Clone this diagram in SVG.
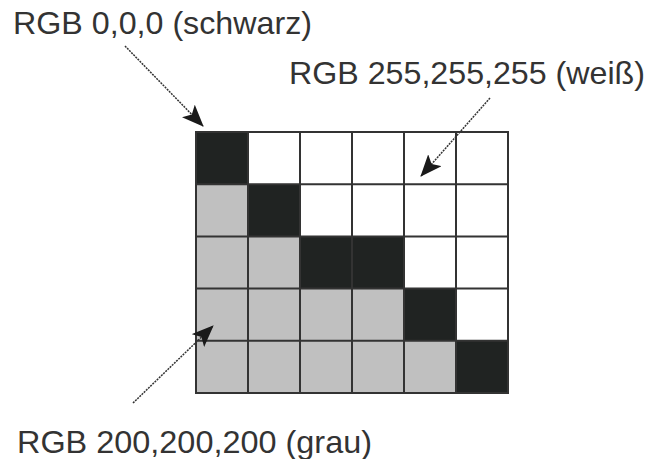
<svg xmlns="http://www.w3.org/2000/svg" width="651" height="459" viewBox="0 0 651 459">
<defs>
<style>
.lbl{font-family:"Liberation Sans",Arial,sans-serif;font-size:32px;fill:#333;}
.k{fill:#202322;}
.w{fill:#ffffff;}
.g{fill:#c0c0c0;}
.grid{stroke:#333;stroke-width:2;fill:none;}
.arr{stroke:#333;stroke-width:1.5;stroke-dasharray:2 1;fill:none;marker-end:url(#ah);}
</style>
<marker id="ah" markerUnits="userSpaceOnUse" markerWidth="24" markerHeight="18" refX="21" refY="9" orient="auto" viewBox="0 0 24 18">
<path d="M0,0 L22,9 L0,18 L5,9 Z" fill="#1a1a1a"/>
</marker>
</defs>
<rect width="651" height="459" fill="#ffffff"/>
<g id="grid">
<rect class="k" x="196" y="132" width="52" height="52.2"/>
<rect class="w" x="248" y="132" width="260" height="52.2"/>
<rect class="g" x="196" y="184.2" width="52" height="52.2"/>
<rect class="k" x="248" y="184.2" width="52" height="52.2"/>
<rect class="w" x="300" y="184.2" width="208" height="52.2"/>
<rect class="g" x="196" y="236.4" width="104" height="52.2"/>
<rect class="k" x="300" y="236.4" width="104" height="52.2"/>
<rect class="w" x="404" y="236.4" width="104" height="52.2"/>
<rect class="g" x="196" y="288.6" width="208" height="52.2"/>
<rect class="k" x="404" y="288.6" width="52" height="52.2"/>
<rect class="w" x="456" y="288.6" width="52" height="52.2"/>
<rect class="g" x="196" y="340.8" width="260" height="52.2"/>
<rect class="k" x="456" y="340.8" width="52" height="52.2"/>
<path class="grid" d="M196,132H508V393H196Z M248,132V393 M300,132V393 M352,132V393 M404,132V393 M456,132V393 M196,184.2H508 M196,236.4H508 M196,288.6H508 M196,340.8H508"/>
</g>
<g id="connectors">
<line class="arr" x1="125" y1="46" x2="203" y2="126"/>
<line class="arr" x1="490" y1="98" x2="421" y2="176"/>
<line class="arr" x1="133" y1="403" x2="213" y2="326"/>
</g>
<g id="label-schwarz"><text class="lbl" x="13" y="34" textLength="299" lengthAdjust="spacingAndGlyphs">RGB 0,0,0 (schwarz)</text></g>
<g id="label-weiss"><text class="lbl" x="289" y="84" textLength="356" lengthAdjust="spacingAndGlyphs">RGB 255,255,255 (weiß)</text></g>
<g id="label-grau"><text class="lbl" x="17" y="453" textLength="355" lengthAdjust="spacingAndGlyphs">RGB 200,200,200 (grau)</text></g>
</svg>
